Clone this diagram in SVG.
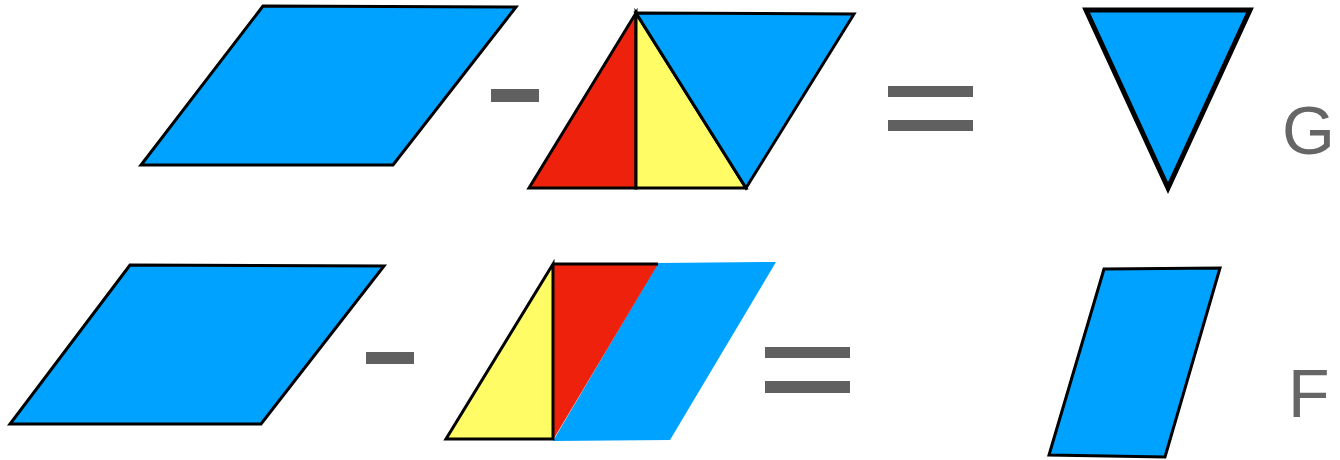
<svg xmlns="http://www.w3.org/2000/svg" width="1340" height="460" viewBox="0 0 1340 460">
<style>
.blue{fill:#00A2FF}
.red{fill:#EE220C}
.yel{fill:#FFFC66}
.k{stroke:#000;stroke-width:3;stroke-linejoin:miter}
.op{fill:#606060}
.lbl{font-family:"Liberation Sans",Arial,sans-serif;font-size:68px;fill:#666}
</style>
<rect width="1340" height="460" fill="#fff"/>
<g id="top-parallelogram"><polygon class="blue k" points="263,6 516,7 393,165 141,165"/></g>
<g id="top-minus"><rect class="op" x="491" y="89" width="48" height="13"/></g>
<g id="top-composite">
<polygon class="red k" points="636,13 636,188 529,188"/>
<polygon class="yel k" points="636,13 746,188 636,188"/>
<polygon class="blue k" points="636,13 854,14 746,188"/>
</g>
<g id="top-equals"><rect class="op" x="888" y="86" width="85" height="11"/><rect class="op" x="888" y="120" width="85" height="11"/></g>
<g id="top-result"><polygon class="blue" stroke="#000" stroke-width="5" points="1086,10 1250,10 1168,188"/></g>
<g id="label-G"><text class="lbl" x="1282" y="154">G</text></g>
<g id="bottom-parallelogram"><polygon class="blue k" points="130,265 384,266 261,424 10,424"/></g>
<g id="bottom-minus"><rect class="op" x="366" y="352" width="48" height="12"/></g>
<g id="bottom-composite">
<polygon class="blue" points="658,263 776,262 670,440 553,441"/>
<polygon class="red" points="553,264 658,264 553,440"/>
<line class="k" x1="553" y1="264" x2="658" y2="264"/>
<polygon class="yel k" points="553,264 553,439 446,439"/>
</g>
<g id="bottom-equals"><rect class="op" x="765" y="347" width="85" height="11"/><rect class="op" x="765" y="381" width="85" height="12"/></g>
<g id="bottom-result"><polygon class="blue k" points="1104,269 1220,268 1165,457 1049,455"/></g>
<g id="label-F"><text class="lbl" x="1288" y="417">F</text></g>
<g id="connectors"/>
</svg>
